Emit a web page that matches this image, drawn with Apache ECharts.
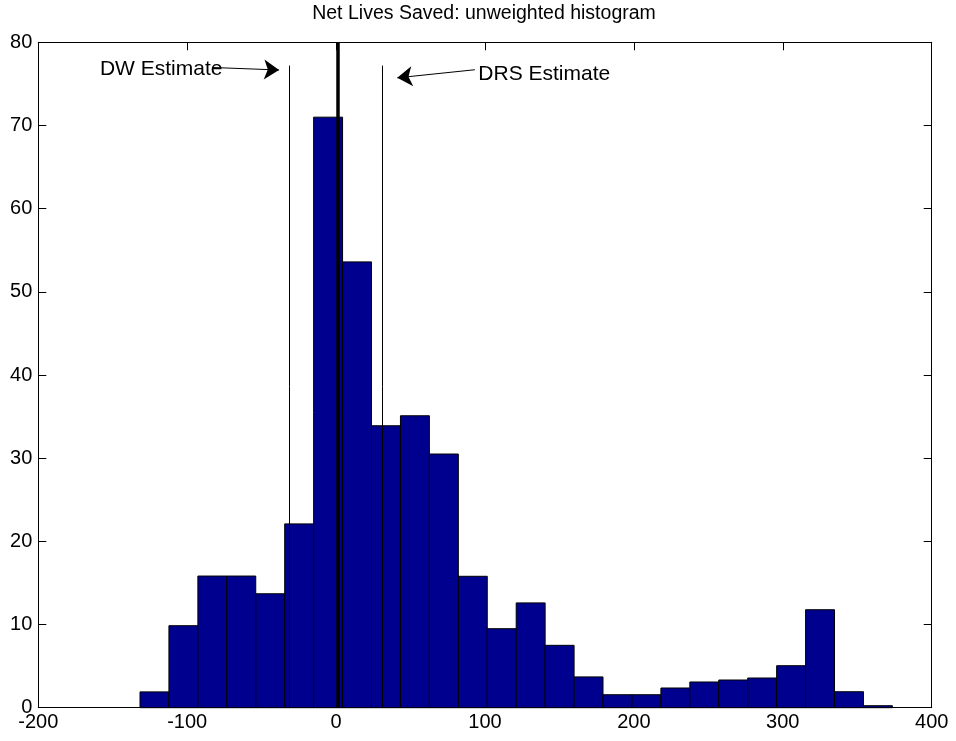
<!DOCTYPE html>
<html>
<head>
<meta charset="utf-8">
<script src="https://cdn.jsdelivr.net/npm/echarts@6/dist/echarts.min.js"></script>
<style>
html,body{margin:0;padding:0;background:#fff;}
#chart{width:956px;height:741px;}
</style>
</head>
<body>
<div id="chart"></div>
<script>
// ---- data ----
const titleText = 'Net Lives Saved: unweighted histogram';
const binCenters = [-121.98, -102.55, -83.11, -63.68, -44.24, -24.81, -5.37, 14.06, 33.50, 52.93,
  72.37, 91.80, 111.24, 130.67, 150.11, 169.54, 188.98, 208.41, 227.85, 247.28,
  266.72, 286.15, 305.59, 325.02, 344.46, 363.89];
const binWidth = 19.435;
const counts = [1.9, 9.86, 15.83, 15.83, 13.7, 22.1, 71.0, 53.6, 33.9, 35.1,
  30.5, 15.8, 9.5, 12.6, 7.5, 3.7, 1.56, 1.56, 2.37, 3.09,
  3.33, 3.57, 5.05, 11.78, 1.92, 0.24];
const zeroLineX = 0.8;
const dwX = -31.6, drsX = 30.8, estTop = 77.2;
const dwLabel = 'DW Estimate', drsLabel = 'DRS Estimate';
const dwLabelPos = [-158.6, 76.76], drsLabelPos = [95.5, 76.16];
const dwArrow = [[-82.7, 76.97], [-38.3, 76.67]];
const drsArrow = [[93.2, 76.7], [41.1, 75.73]];
const xTicks = {min: -200, max: 400, step: 100};
const yTicks = {min: 0, max: 80, step: 10};

const FONT = 'Liberation Sans, Arial, Helvetica, sans-serif';
const chart = echarts.init(document.getElementById('chart'));

const axisCommon = {
  axisLine: {show: true, onZero: false, lineStyle: {color: '#000', width: 1}},
  axisTick: {show: true, inside: true, length: 8, lineStyle: {color: '#000'}},
  splitLine: {show: false}
};

chart.setOption({
  animation: false,
  backgroundColor: '#fff',
  title: {
    text: titleText, left: 484, top: 4, textAlign: 'center', padding: 0,
    textStyle: {fontFamily: FONT, fontSize: 19.5, fontWeight: 'normal', color: '#000'}
  },
  grid: {left: 38.3, right: 24.3, top: 42.3, bottom: 33.3},
  xAxis: [
    Object.assign({type: 'value', min: xTicks.min, max: xTicks.max, interval: xTicks.step, position: 'bottom',
      axisLabel: {fontFamily: FONT, fontSize: 20, color: '#000', margin: 5}}, axisCommon),
    Object.assign({type: 'value', min: xTicks.min, max: xTicks.max, interval: xTicks.step, position: 'top',
      axisLabel: {show: false}}, axisCommon)
  ],
  yAxis: [
    Object.assign({type: 'value', min: yTicks.min, max: yTicks.max, interval: yTicks.step, position: 'left',
      axisLabel: {fontFamily: FONT, fontSize: 20, color: '#000', margin: 6}}, axisCommon),
    Object.assign({type: 'value', min: yTicks.min, max: yTicks.max, interval: yTicks.step, position: 'right',
      axisLabel: {show: false}}, axisCommon)
  ],
  series: [
    {
      type: 'custom',
      data: binCenters.map((c, i) => [c, counts[i]]),
      renderItem: function (params, api) {
        const c = api.value(0), h = api.value(1);
        const p0 = api.coord([c - binWidth / 2, h]);
        const p1 = api.coord([c + binWidth / 2, 0]);
        return {
          type: 'rect',
          shape: {x: p0[0], y: p0[1], width: p1[0] - p0[0], height: p1[1] - p0[1]},
          style: {fill: '#00008F', stroke: '#000', lineWidth: 1}
        };
      },
      z: 2
    },
    {
      type: 'lines', coordinateSystem: 'cartesian2d', z: 5, silent: true,
      lineStyle: {color: '#000', width: 1, opacity: 1},
      data: [
        {coords: [[dwX, 0], [dwX, estTop]]},
        {coords: [[drsX, 0], [drsX, estTop]]}
      ]
    },
    {
      type: 'lines', coordinateSystem: 'cartesian2d', z: 6, silent: true,
      lineStyle: {color: '#000', width: 3.5, opacity: 1},
      data: [{coords: [[zeroLineX, 0], [zeroLineX, yTicks.max]]}]
    },
    {
      type: 'lines', coordinateSystem: 'cartesian2d', z: 7, silent: true,
      symbol: ['none', 'arrow'], symbolSize: 15,
      lineStyle: {color: '#000', width: 1, opacity: 1},
      itemStyle: {color: '#000'},
      data: [{coords: dwArrow}, {coords: drsArrow}]
    },
    {
      type: 'scatter', symbolSize: 0, z: 8, silent: true,
      itemStyle: {opacity: 0},
      label: {show: true, position: 'right', distance: 0, formatter: '{b}',
        fontFamily: FONT, fontSize: 21, color: '#000', opacity: 1},
      data: [
        {name: dwLabel, value: dwLabelPos},
        {name: drsLabel, value: drsLabelPos}
      ]
    }
  ]
});
</script>
</body>
</html>
